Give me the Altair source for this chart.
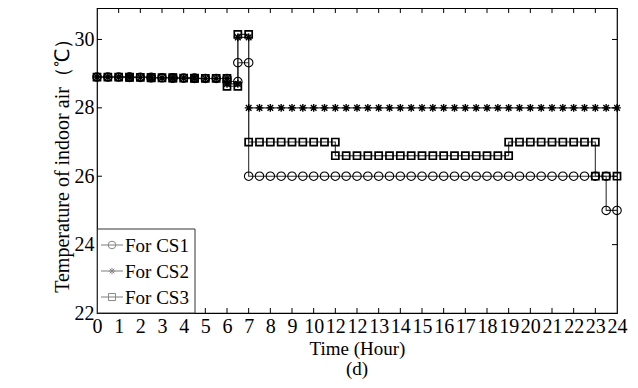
import altair as alt
import pandas as pd

# ---------------- data ----------------
hours = [0, 0.5, 1, 1.5, 2, 2.5, 3, 3.5, 4, 4.5, 5, 5.5, 6, 6.5,
         7, 7.5, 8, 8.5, 9, 9.5, 10, 10.5, 11, 11.5, 12, 12.5, 13, 13.5,
         14, 14.5, 15, 15.5, 16, 16.5, 17, 17.5, 18, 18.5, 19, 19.5, 20, 20.5,
         21, 21.5, 22, 22.5, 23, 23.5, 24]

cs1 = [28.90, 28.90, 28.90, 28.89, 28.89, 28.88, 28.88, 28.87, 28.87, 28.86, 28.86, 28.86,
       28.77, 29.32,
       26.0, 26.0, 26.0, 26.0, 26.0, 26.0, 26.0, 26.0, 26.0, 26.0, 26.0, 26.0, 26.0, 26.0,
       26.0, 26.0, 26.0, 26.0, 26.0, 26.0, 26.0, 26.0, 26.0, 26.0, 26.0, 26.0, 26.0, 26.0,
       26.0, 26.0, 26.0, 26.0, 26.0,
       25.0, 25.0]

cs2 = [28.90, 28.90, 28.90, 28.89, 28.89, 28.88, 28.88, 28.87, 28.87, 28.86, 28.86, 28.86,
       28.70, 30.06,
       28.0, 28.0, 28.0, 28.0, 28.0, 28.0, 28.0, 28.0, 28.0, 28.0, 28.0, 28.0, 28.0, 28.0,
       28.0, 28.0, 28.0, 28.0, 28.0, 28.0, 28.0, 28.0, 28.0, 28.0, 28.0, 28.0, 28.0, 28.0,
       28.0, 28.0, 28.0, 28.0, 28.0, 28.0, 28.0]

cs3 = [28.90, 28.90, 28.90, 28.89, 28.89, 28.88, 28.88, 28.87, 28.87, 28.86, 28.86, 28.86,
       28.63, 30.15,
       27.0, 27.0, 27.0, 27.0, 27.0, 27.0, 27.0, 27.0,
       26.6, 26.6, 26.6, 26.6, 26.6, 26.6, 26.6, 26.6,
       26.6, 26.6, 26.6, 26.6, 26.6, 26.6, 26.6, 26.6,
       27.0, 27.0, 27.0, 27.0, 27.0, 27.0, 27.0, 27.0,
       26.0, 26.0, 26.0]

series_names = ["For CS1", "For CS2", "For CS3"]
x_tick_values = [0, 1, 2, 3, 4, 5, 6, 7, 8, 9, 10, 11, 12, 13, 14, 15, 16, 17, 18, 19, 20, 21, 22, 23, 24]
x_tick_labels = ["0", "1", "2", "3", "4", "5", "6", "7", "8", "9", "10", "12", "12", "13",
                 "14", "15", "16", "17", "18", "19", "20", "21", "22", "23", "24"]
y_tick_values = [22, 24, 26, 28, 30]

# ---------------- build tables ----------------
line_rows, marker_rows = [], []
for name, vals in zip(series_names, [cs1, cs2, cs3]):
    for i, (t, v) in enumerate(zip(hours, vals)):
        line_rows.append({"series": name, "t": t, "v": v})
        marker_rows.append({"series": name, "t": t, "v": v})
        if i > 0 and vals[i - 1] != v:
            # stair corner (previous level at this time) also carries a marker
            marker_rows.append({"series": name, "t": t, "v": vals[i - 1]})
line_df = pd.DataFrame(line_rows)
marker_df = pd.DataFrame(marker_rows)
xt_df = pd.DataFrame({"t": x_tick_values[1:-1]})
yt_df = pd.DataFrame({"v": y_tick_values[1:]})

FONT = "Liberation Serif"
FS = 20
W, H = 520, 305
STAR = "M-1,0L1,0M0,-1L0,1M-0.72,-0.72L0.72,0.72M-0.72,0.72L0.72,-0.72"
shape_range = ["circle", STAR, "square"]
size_range = [72, 50, 62]
stroke_range = [1.1, 1.7, 1.1]

label_expr = "[" + ",".join("'" + s + "'" for s in x_tick_labels) + "][datum.value]"

xscale = alt.Scale(domain=[0, 24], nice=False, zero=False)
yscale = alt.Scale(domain=[22, 30.92], nice=False, zero=False)

x_axis = alt.Axis(values=x_tick_values, labelExpr=label_expr, title="Time (Hour)",
                  ticks=False, domain=False, grid=False, labelFlush=False,
                  labelOverlap=False, labelPadding=3, titlePadding=3,
                  labelFont=FONT, titleFont=FONT, labelFontSize=FS, titleFontSize=FS - 1,
                  titleFontWeight="normal", labelColor="black", titleColor="black")
y_axis = alt.Axis(values=y_tick_values, title="Temperature of indoor air（℃）",
                  ticks=False, domain=False, grid=False, labelFlush=False,
                  labelOverlap=False, labelPadding=3, titlePadding=2,
                  labelFont=FONT, titleFont=FONT, labelFontSize=FS, titleFontSize=FS,
                  titleFontWeight="normal", labelColor="black", titleColor="black")

X = alt.X("t:Q", scale=xscale, axis=x_axis)
Y = alt.Y("v:Q", scale=yscale, axis=y_axis)

lines = alt.Chart(line_df).mark_line(interpolate="step-after", color="#333333",
                                     strokeWidth=1.1).encode(x=X, y=Y, detail="series:N")

points = alt.Chart(marker_df).mark_point(filled=False, color="black", opacity=1).encode(
    x=X, y=Y,
    shape=alt.Shape("series:N", scale=alt.Scale(domain=series_names, range=shape_range), legend=None),
    size=alt.Size("series:N", scale=alt.Scale(domain=series_names, range=size_range), legend=None),
    strokeWidth=alt.StrokeWidth("series:N", scale=alt.Scale(domain=series_names, range=stroke_range),
                                legend=None),
)

tick_len = 5
xt_bottom = alt.Chart(xt_df).mark_rule(color="black").encode(
    x=X, y=alt.value(H), y2=alt.value(H - tick_len))
xt_top = alt.Chart(xt_df).mark_rule(color="black").encode(
    x=X, y=alt.value(0), y2=alt.value(tick_len))
yt_left = alt.Chart(yt_df).mark_rule(color="black").encode(
    y=Y, x=alt.value(0), x2=alt.value(tick_len))
yt_right = alt.Chart(yt_df).mark_rule(color="black").encode(
    y=Y, x=alt.value(W), x2=alt.value(W - tick_len))

# ---------------- legend (drawn inside the plot, lower left) ----------------
box_top, box_right = 221, 98
legend_box = alt.Chart(pd.DataFrame({"a": [0]})).mark_rect(
    fill="white", stroke="#333333", strokeWidth=1).encode(
    x=alt.value(0.5), x2=alt.value(box_right), y=alt.value(box_top), y2=alt.value(H))

legend_layers = [legend_box]
for i, name in enumerate(series_names):
    yy = 237 + 26 * i
    d = pd.DataFrame({"series": [name]})
    legend_layers.append(alt.Chart(d).mark_rule(color="#888888", strokeWidth=1.1).encode(
        x=alt.value(4), x2=alt.value(26), y=alt.value(yy)))
    legend_layers.append(alt.Chart(d).mark_point(filled=False, color="#888888", strokeWidth=1,
                                                 opacity=1).encode(
        x=alt.value(15), y=alt.value(yy),
        shape=alt.value(shape_range[i]), size=alt.value(size_range[i] * 0.8)))
    legend_layers.append(alt.Chart(d).mark_text(align="left", baseline="middle", font=FONT,
                                                fontSize=FS - 1, color="black").encode(
        x=alt.value(28), y=alt.value(yy + 1), text="series:N"))

chart = alt.layer(lines, points, xt_bottom, xt_top, yt_left, yt_right, *legend_layers).properties(
    width=W, height=H,
    autosize=alt.AutoSizeParams(type="none"),
    padding={"left": 89, "top": 0, "right": 13, "bottom": 67},
    background="white",
    title=alt.TitleParams("(d)", orient="bottom", anchor="middle", font=FONT, fontSize=FS - 1,
                          fontWeight="normal", color="black", offset=2),
).configure_view(stroke="black", strokeWidth=1.2)

chart.save("out.html", embed_options={"renderer": "svg", "actions": False})
